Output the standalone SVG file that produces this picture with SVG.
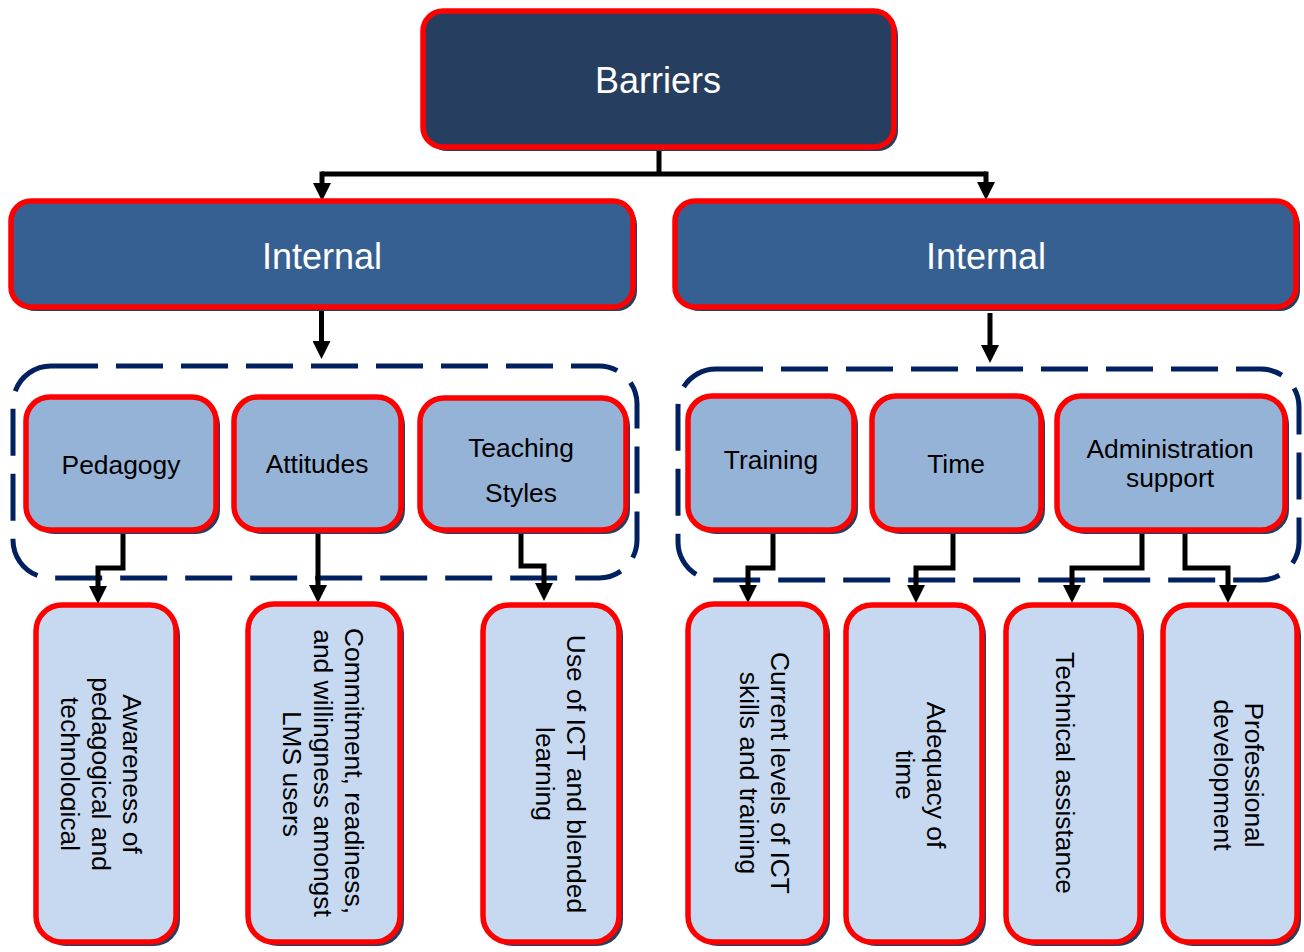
<svg xmlns="http://www.w3.org/2000/svg" width="1304" height="952" viewBox="0 0 1304 952">
<style>
  .box { stroke: #FF0000; stroke-width: 5.5; }
  .shadow { fill: #243F60; }
  .l0 { fill: #263F60; }
  .l1 { fill: #376092; }
  .l2 { fill: #95B3D7; }
  .l3 { fill: #C6D9F1; }
  .dash { fill: none; stroke: #002060; stroke-width: 5; stroke-dasharray: 47 18; }
  .wt { font-family: "Liberation Sans", Arial, sans-serif; font-size: 36px; fill: #FFFFFF; text-anchor: middle; }
  .bt { font-family: "Liberation Sans", Arial, sans-serif; font-size: 26.4px; fill: #000000; text-anchor: middle; }
  .conn { fill: none; stroke: #000000; stroke-width: 5; stroke-linejoin: miter; }
</style>
<defs>
  <marker id="arr" viewBox="0 0 18 18" refX="1" refY="9" markerWidth="18" markerHeight="18" markerUnits="userSpaceOnUse" orient="auto">
    <path d="M0,0 L18,9 L0,18 Z" fill="#000000"/>
  </marker>
  <clipPath id="clipTech">
    <rect x="60" y="600" width="130" height="350"/>
  </clipPath>
</defs>
<rect width="1304" height="952" fill="#FFFFFF"/>

<!-- Dashed groupings -->
<g id="group-left">
  <rect class="dash" x="13" y="366" width="624" height="212" rx="38"/>
</g>
<g id="group-right">
  <rect class="dash" x="678" y="369" width="621" height="211" rx="38"/>
</g>

<g id="connectors">
  <polyline class="conn" points="659,150 659,174"/>
  <polyline class="conn" points="322,174 986,174"/>
  <polyline class="conn" points="322,171.5 322,184" marker-end="url(#arr)"/>
  <polyline class="conn" points="986,171.5 986,183" marker-end="url(#arr)"/>
  <polyline class="conn" points="321.5,310 321.5,342" marker-end="url(#arr)"/>
  <polyline class="conn" points="990,313 990,346" marker-end="url(#arr)"/>
  <polyline class="conn" points="123,532 123,568 98,568 98,587" marker-end="url(#arr)"/>
  <polyline class="conn" points="318,532 318,586" marker-end="url(#arr)"/>
  <polyline class="conn" points="521,532 521,566 544,566 544,584" marker-end="url(#arr)"/>
  <polyline class="conn" points="773,532 773,568 748,568 748,586" marker-end="url(#arr)"/>
  <polyline class="conn" points="953,532 953,568 916,568 916,586" marker-end="url(#arr)"/>
  <polyline class="conn" points="1142,532 1142,568 1072,568 1072,586" marker-end="url(#arr)"/>
  <polyline class="conn" points="1185,532 1185,568 1228,568 1228,586" marker-end="url(#arr)"/>
</g>

<g id="barriers">
  <rect class="shadow" x="427" y="15" width="471" height="136" rx="20"/>
  <rect class="box l0" x="423" y="11" width="471" height="136" rx="20"/>
  <text class="wt" x="658" y="93">Barriers</text>
</g>

<g id="internal-left">
  <rect class="shadow" x="15" y="205" width="622" height="106" rx="20"/>
  <rect class="box l1" x="11" y="201" width="622" height="106" rx="20"/>
  <text class="wt" x="322" y="269">Internal</text>
</g>
<g id="internal-right">
  <rect class="shadow" x="679" y="205" width="621" height="106" rx="20"/>
  <rect class="box l1" x="675" y="201" width="621" height="106" rx="20"/>
  <text class="wt" x="986" y="269">Internal</text>
</g>

<g id="pedagogy">
  <rect class="shadow" x="30" y="401" width="190" height="133" rx="24"/>
  <rect class="box l2" x="26" y="397" width="190" height="133" rx="24"/>
  <text class="bt" x="121" y="474">Pedagogy</text>
</g>
<g id="attitudes">
  <rect class="shadow" x="238" y="401" width="167" height="133" rx="24"/>
  <rect class="box l2" x="234" y="397" width="167" height="133" rx="24"/>
  <text class="bt" x="317" y="473">Attitudes</text>
</g>
<g id="teaching-styles">
  <rect class="shadow" x="424" y="402" width="206" height="132" rx="24"/>
  <rect class="box l2" x="420" y="398" width="206" height="132" rx="24"/>
  <text class="bt" x="521" y="457">Teaching</text>
  <text class="bt" x="521" y="502">Styles</text>
</g>
<g id="training">
  <rect class="shadow" x="692" y="400" width="166" height="134" rx="24"/>
  <rect class="box l2" x="688" y="396" width="166" height="134" rx="24"/>
  <text class="bt" x="771" y="469">Training</text>
</g>
<g id="time">
  <rect class="shadow" x="876" y="400" width="169" height="134" rx="24"/>
  <rect class="box l2" x="872" y="396" width="169" height="134" rx="24"/>
  <text class="bt" x="956" y="473">Time</text>
</g>
<g id="administration-support">
  <rect class="shadow" x="1061" y="400" width="228" height="134" rx="24"/>
  <rect class="box l2" x="1057" y="396" width="228" height="134" rx="24"/>
  <text class="bt" x="1170" y="458">Administration</text>
  <text class="bt" x="1170" y="487">support</text>
</g>

<g id="awareness">
  <rect class="shadow" x="40" y="609" width="140" height="337" rx="26"/>
  <rect class="box l3" x="36" y="605" width="140" height="337" rx="26"/>
  <text class="bt" x="123" y="774" transform="rotate(90 123 774)">Awareness of</text>
  <text class="bt" x="92" y="774" transform="rotate(90 92 774)">pedagogical and</text>
  <g clip-path="url(#clipTech)">
    <text class="bt" x="61" y="774" transform="rotate(90 61 774)">technological</text>
  </g>
</g>
<g id="commitment">
  <rect class="shadow" x="252" y="608" width="152" height="338" rx="26"/>
  <rect class="box l3" x="248" y="604" width="152" height="338" rx="26"/>
  <text class="bt" x="345" y="771" transform="rotate(90 345 771)">Commitment, readiness,</text>
  <text class="bt" x="314" y="773" transform="rotate(90 314 773)">and willingness amongst</text>
  <text class="bt" x="283" y="774" transform="rotate(90 283 774)">LMS users</text>
</g>
<g id="use-of-ict">
  <rect class="shadow" x="487" y="609" width="136" height="337" rx="26"/>
  <rect class="box l3" x="483" y="605" width="136" height="337" rx="26"/>
  <text class="bt" x="567" y="774" transform="rotate(90 567 774)">Use of ICT and blended</text>
  <text class="bt" x="536" y="774" transform="rotate(90 536 774)">learning</text>
</g>
<g id="current-levels">
  <rect class="shadow" x="692" y="608" width="138" height="338" rx="26"/>
  <rect class="box l3" x="688" y="604" width="138" height="338" rx="26"/>
  <text class="bt" x="771" y="773" transform="rotate(90 771 773)">Current levels of ICT</text>
  <text class="bt" x="740" y="773" transform="rotate(90 740 773)">skills and training</text>
</g>
<g id="adequacy">
  <rect class="shadow" x="850" y="609" width="136" height="337" rx="26"/>
  <rect class="box l3" x="846" y="605" width="136" height="337" rx="26"/>
  <text class="bt" x="927" y="775" transform="rotate(90 927 775)">Adequacy of</text>
  <text class="bt" x="896" y="775" transform="rotate(90 896 775)">time</text>
</g>
<g id="technical-assistance">
  <rect class="shadow" x="1010" y="609" width="134" height="337" rx="26"/>
  <rect class="box l3" x="1006" y="605" width="134" height="337" rx="26"/>
  <text class="bt" x="1056" y="773" transform="rotate(90 1056 773)">Technical assistance</text>
</g>
<g id="professional-development">
  <rect class="shadow" x="1167" y="609" width="134" height="337" rx="26"/>
  <rect class="box l3" x="1163" y="605" width="134" height="337" rx="26"/>
  <text class="bt" x="1245" y="775" transform="rotate(90 1245 775)">Professional</text>
  <text class="bt" x="1214" y="775" transform="rotate(90 1214 775)">development</text>
</g>
</svg>
